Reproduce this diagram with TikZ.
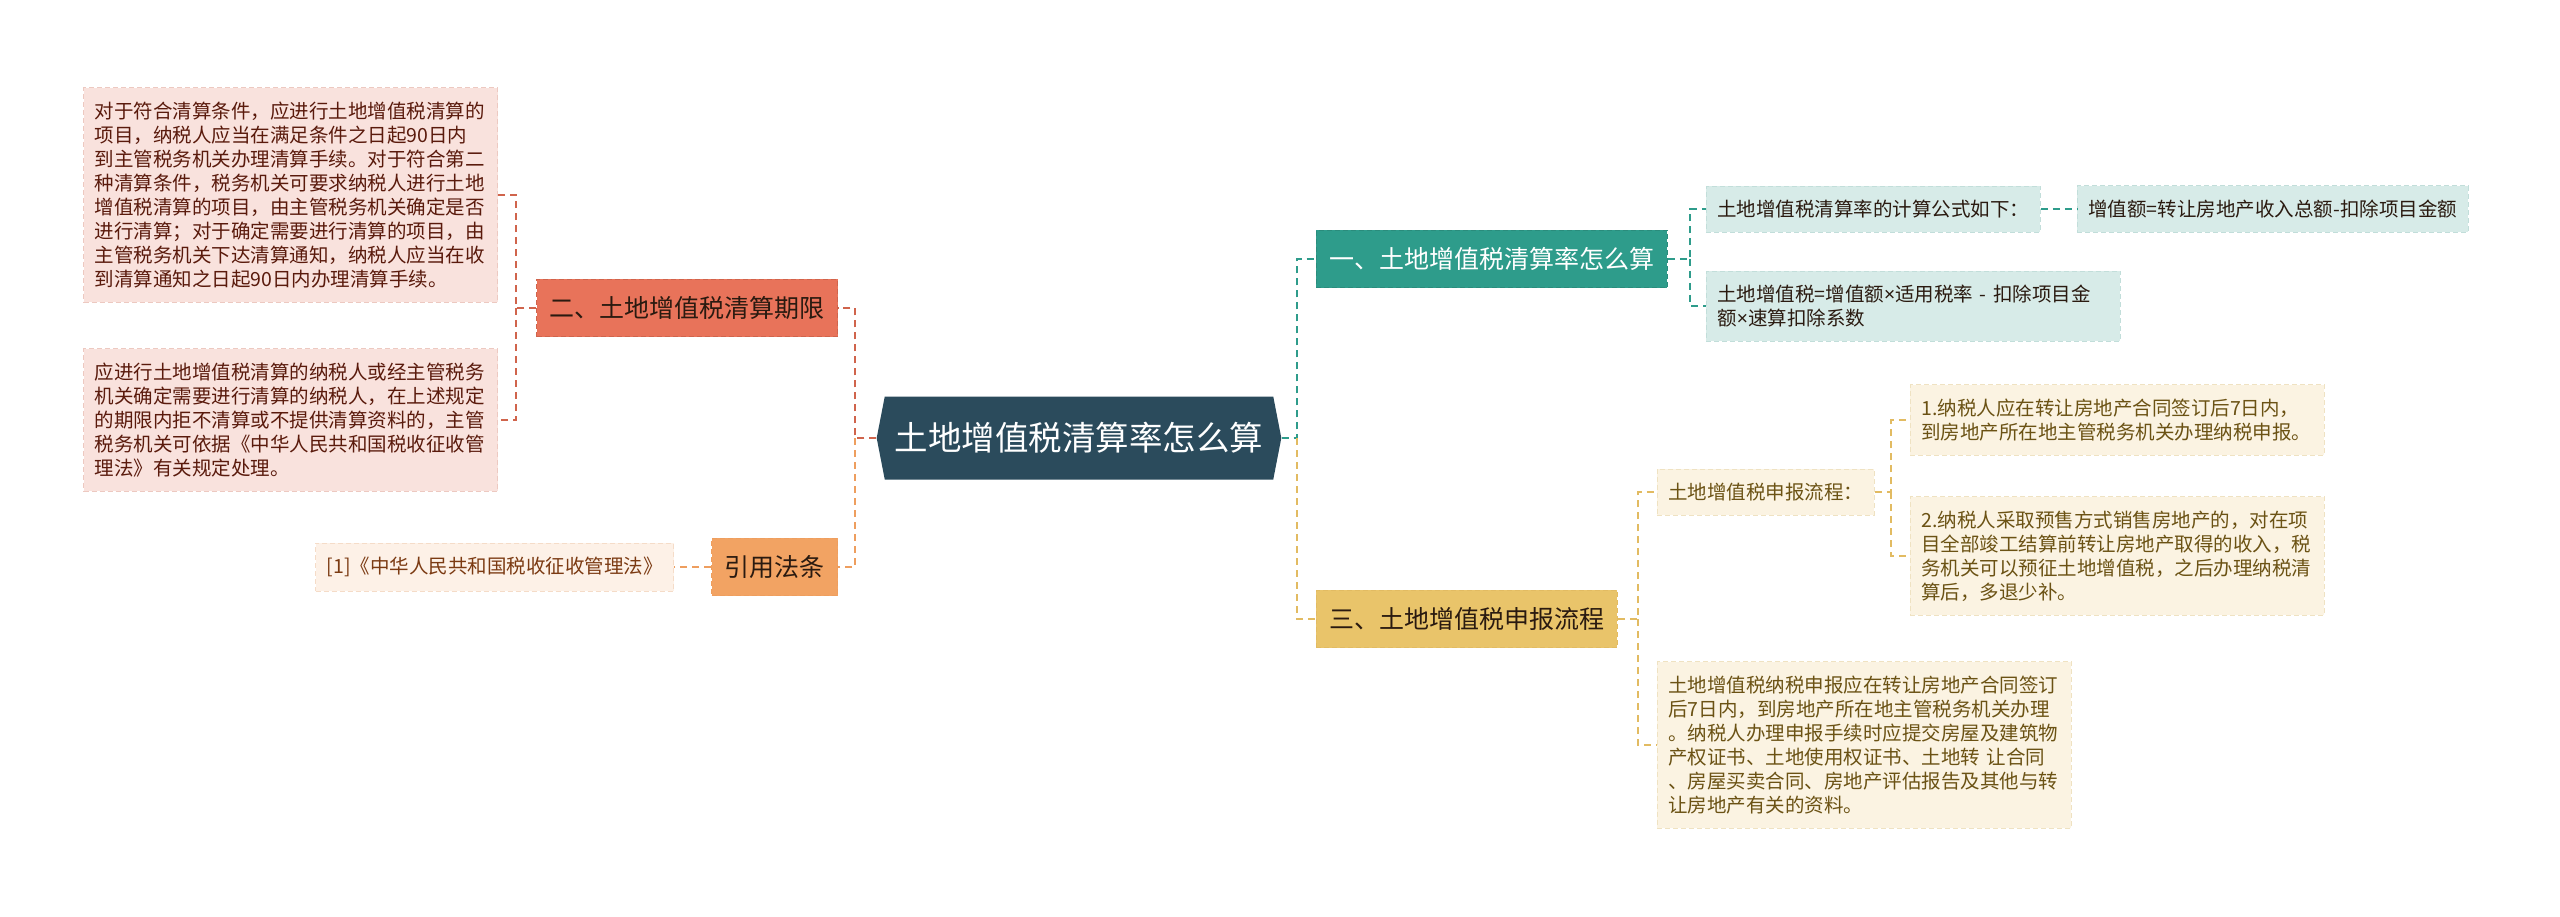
\documentclass[tikz,border=0pt]{standalone}
\usepackage{fontspec}
\setmainfont{Noto Sans CJK SC}
\newfontfamily\narrowfont{Noto Sans}
\newcommand{\ntimes}{{\narrowfont ×}}
\usetikzlibrary{shapes.symbols}

\definecolor{rootfill}{HTML}{2B4B5C}
\definecolor{redfill}{HTML}{E8735A}
\definecolor{redline}{HTML}{D0644C}
\definecolor{pinkfill}{HTML}{F9E2DD}
\definecolor{pinkline}{HTML}{EDC9C1}
\definecolor{redtext}{HTML}{5A1A0C}
\definecolor{orangefill}{HTML}{F2A363}
\definecolor{orangeline}{HTML}{EE9E5E}
\definecolor{peachfill}{HTML}{FDF1E7}
\definecolor{peachline}{HTML}{F5DCC8}
\definecolor{browntext}{HTML}{7B3A12}
\definecolor{tealfill}{HTML}{2E9C8B}
\definecolor{tealline}{HTML}{2A8C7C}
\definecolor{mintfill}{HTML}{D7EBE8}
\definecolor{mintline}{HTML}{C2DEDA}
\definecolor{goldfill}{HTML}{E9C46A}
\definecolor{goldline}{HTML}{E2BB62}
\definecolor{creamfill}{HTML}{FBF3E2}
\definecolor{creamline}{HTML}{EFE2C2}
\definecolor{olivetext}{HTML}{6B5214}
\definecolor{darktext}{HTML}{2A1A10}

\tikzset{
  rootnode/.style={shape=signal, signal to=west and east, signal pointer angle=158,
    fill=rootfill, text=white, minimum height=83pt, inner xsep=10pt, inner ysep=4pt,
    font=\fontsize{33.5}{38}\selectfont},
  branch/.style={draw, line width=0.8pt, dash pattern=on 5pt off 3pt,
    inner xsep=13pt, inner ysep=17pt, text=darktext, font=\fontsize{25}{28}\selectfont},
  leaf/.style={draw, line width=0.8pt, dash pattern=on 5pt off 3pt, align=left,
    inner xsep=11pt, inner ysep=14pt, font=\fontsize{19.5}{24}\selectfont},
  wide/.style={text width=392pt},
  link/.style={line width=1.6pt, dash pattern=on 7pt off 5pt},
}

\begin{document}
\begin{tikzpicture}[x=1pt,y=-1pt]
\fill[white] (0,0) rectangle (2560,917);

% centre
\node[rootnode] (root) at (1079,438) {土地增值税清算率怎么算};

% left side
\node[branch, fill=redfill, draw=redline, anchor=east] (limit) at (838,308) {二、土地增值税清算期限};
\node[leaf, wide, fill=pinkfill, draw=pinkline, text=redtext, anchor=east] (limita) at (498,195)
  {对于符合清算条件，应进行土地增值税清算的\\项目，纳税人应当在满足条件之日起90日内\\到主管税务机关办理清算手续。对于符合第二\\种清算条件，税务机关可要求纳税人进行土地\\增值税清算的项目，由主管税务机关确定是否\\进行清算；对于确定需要进行清算的项目，由\\主管税务机关下达清算通知，纳税人应当在收\\到清算通知之日起90日内办理清算手续。};
\node[leaf, wide, fill=pinkfill, draw=pinkline, text=redtext, anchor=east] (limitb) at (498,420)
  {应进行土地增值税清算的纳税人或经主管税务\\机关确定需要进行清算的纳税人，在上述规定\\的期限内拒不清算或不提供清算资料的，主管\\税务机关可依据《中华人民共和国税收征收管\\理法》有关规定处理。};
\node[branch, fill=orangefill, draw=orangeline, anchor=east] (cite) at (838,567) {引用法条};
\node[leaf, fill=peachfill, draw=peachline, text=browntext, anchor=east] (law) at (674,567)
  {[1]《中华人民共和国税收征收管理法》};

% right side
\node[branch, fill=tealfill, draw=tealline, text=white, anchor=west] (rate) at (1316,259) {一、土地增值税清算率怎么算};
\node[leaf, fill=mintfill, draw=mintline, text=darktext, anchor=west] (formula) at (1706,209)
  {土地增值税清算率的计算公式如下：};
\node[leaf, fill=mintfill, draw=mintline, text=darktext, anchor=west] (gain) at (2077,209)
  {增值额=转让房地产收入总额-扣除项目金额};
\node[leaf, wide, fill=mintfill, draw=mintline, text=darktext, anchor=west] (tax) at (1706,306)
  {土地增值税=增值额\ntimes 适用税率 - 扣除项目金\\额\ntimes 速算扣除系数};

\node[branch, fill=goldfill, draw=goldline, anchor=west] (filing) at (1316,619) {三、土地增值税申报流程};
\node[leaf, fill=creamfill, draw=creamline, text=olivetext, anchor=west] (flow) at (1657,492)
  {土地增值税申报流程：};
\node[leaf, wide, fill=creamfill, draw=creamline, text=olivetext, anchor=west] (stepa) at (1910,420)
  {1.纳税人应在转让房地产合同签订后7日内，\\到房地产所在地主管税务机关办理纳税申报。};
\node[leaf, wide, fill=creamfill, draw=creamline, text=olivetext, anchor=west] (stepb) at (1910,556)
  {2.纳税人采取预售方式销售房地产的，对在项\\目全部竣工结算前转让房地产取得的收入，税\\务机关可以预征土地增值税，之后办理纳税清\\算后，多退少补。};
\node[leaf, wide, fill=creamfill, draw=creamline, text=olivetext, anchor=west] (papers) at (1657,745)
  {土地增值税纳税申报应在转让房地产合同签订\\后7日内，到房地产所在地主管税务机关办理\\。纳税人办理申报手续时应提交房屋及建筑物\\产权证书、土地使用权证书、土地转 让合同\\、房屋买卖合同、房地产评估报告及其他与转\\让房地产有关的资料。};

% junctions
\coordinate (lhub) at (855,438);
\coordinate (limithub) at (516,308);
\coordinate (rhub) at (1297,438);
\coordinate (ratehub) at (1690,259);
\coordinate (filinghub) at (1638,619);
\coordinate (flowhub) at (1891,492);

% connectors
\draw[link, redline] (root.west) -- (lhub) |- (limit.east);
\draw[link, orangeline] (lhub) |- (cite.east);
\draw[link, redline] (limit.west) -- (limithub) |- (limita.east);
\draw[link, redline] (limithub) |- (limitb.east);
\draw[link, orangeline] (cite.west) -- (law.east);

\draw[link, tealfill] (root.east) -- (rhub) |- (rate.west);
\draw[link, goldline] (rhub) |- (filing.west);
\draw[link, tealfill] (rate.east) -- (ratehub) |- (formula.west);
\draw[link, tealfill] (ratehub) |- (tax.west);
\draw[link, tealfill] (formula.east) -- (gain.west);
\draw[link, goldline] (filing.east) -- (filinghub) |- (flow.west);
\draw[link, goldline] (filinghub) |- (papers.west);
\draw[link, goldline] (flow.east) -- (flowhub) |- (stepa.west);
\draw[link, goldline] (flowhub) |- (stepb.west);
\end{tikzpicture}
\end{document}
